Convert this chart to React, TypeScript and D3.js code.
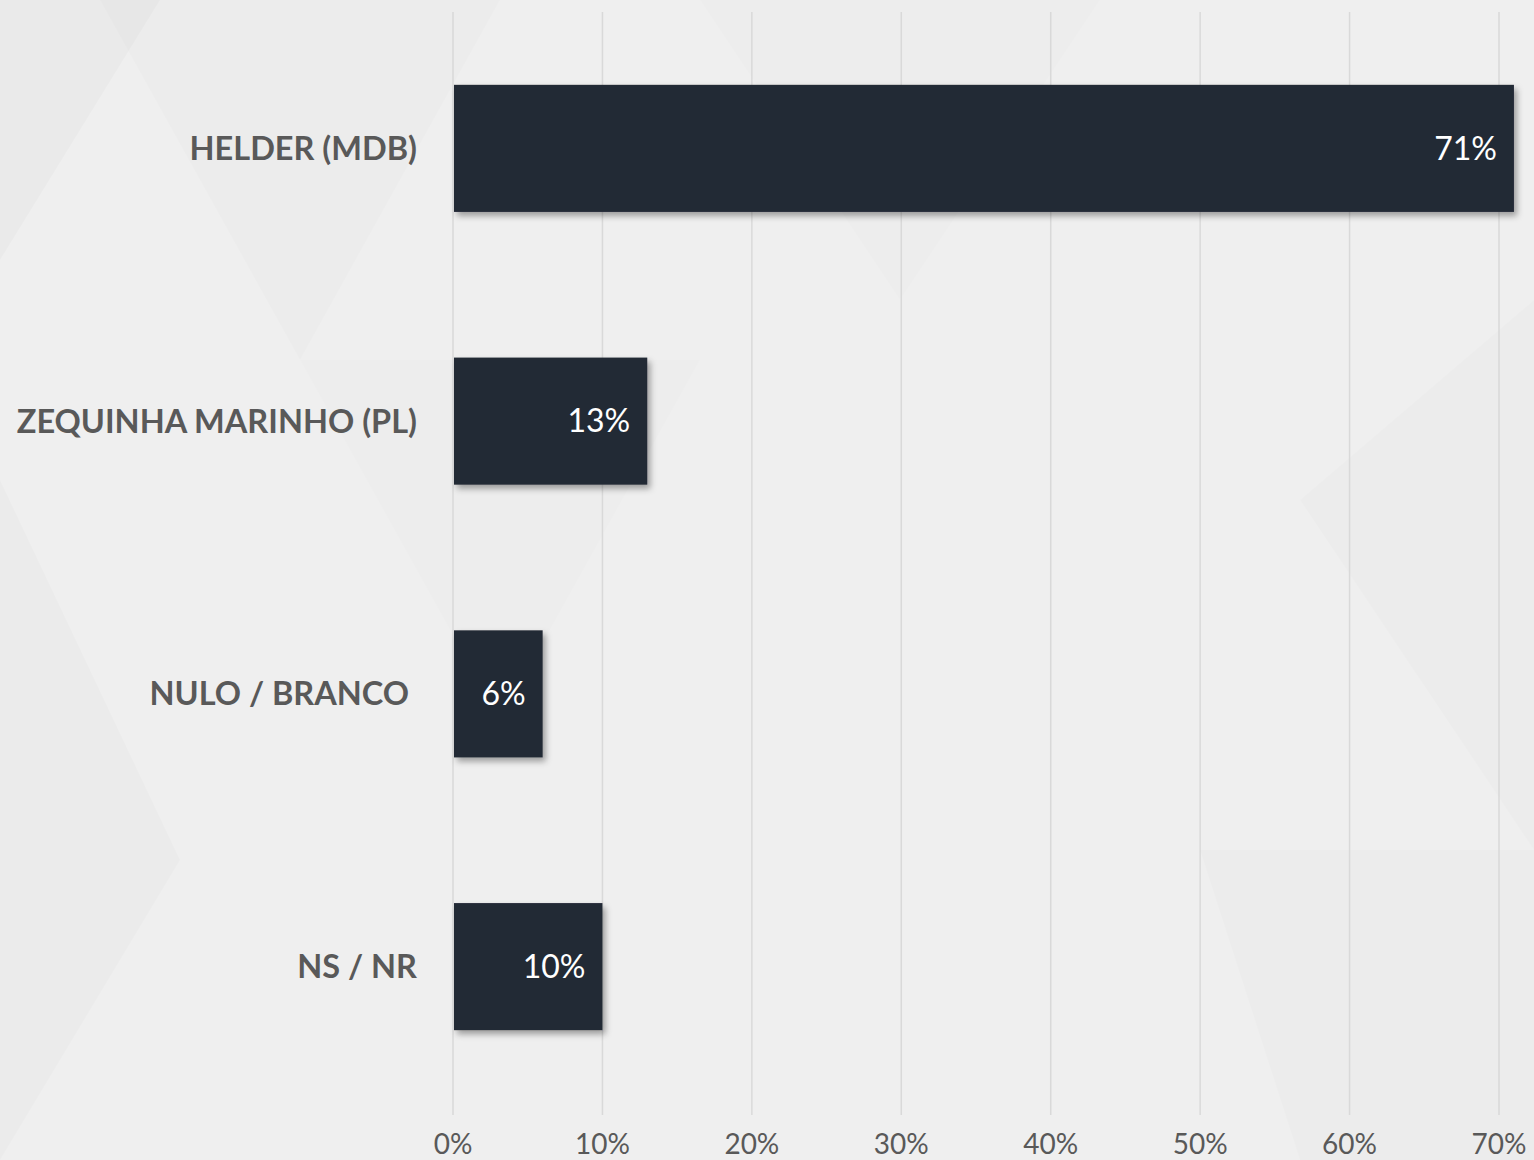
import React from 'react';
import * as d3 from 'd3';

const categories = ['HELDER (MDB)', 'ZEQUINHA MARINHO (PL)', 'NULO / BRANCO ', 'NS / NR'];
const values = [71, 13, 6, 10];
const tickValues = [0, 10, 20, 30, 40, 50, 60, 70];

const W = 1534;
const H = 1160;
const margin = { top: 12, right: 20, bottom: 57, left: 453 };

// faint background facets, like the slide template
const facets = [
  { pts: '0,0 160,0 0,260', o: 0.02 },
  { pts: '100,0 500,0 300,360', o: 0.01 },
  { pts: '300,360 700,360 500,720', o: 0.008 },
  { pts: '0,480 180,860 0,1160', o: 0.015 },
  { pts: '1200,850 1534,850 1534,1160 1300,1160', o: 0.012 },
  { pts: '1300,500 1534,300 1534,850', o: 0.01 },
  { pts: '700,0 1100,0 900,300', o: 0.008 },
];

const App = () => {
  const height = H - margin.top - margin.bottom;

  const x = d3.scaleLinear().domain([0, 70]).range([0, 1046]);
  const y = d3
    .scaleBand()
    .domain(categories)
    .range([0, height])
    .paddingInner(0.534)
    .paddingOuter(0.267);

  return (
    <svg
      width={W}
      height={H}
      style={{ position: 'absolute', left: 0, top: 0, display: 'block' }}
      fontFamily="Lato, 'Open Sans', sans-serif"
    >
      <defs>
        <filter id="shadow" x="-5%" y="-10%" width="120%" height="130%">
          <feDropShadow dx="3" dy="4" stdDeviation="3" floodColor="#000" floodOpacity="0.35" />
        </filter>
      </defs>
      <rect width={W} height={H} fill="#efefef" />
      {facets.map((f, i) => (
        <polygon key={i} points={f.pts} fill="#000" opacity={f.o} />
      ))}
      <g transform={`translate(${margin.left},${margin.top})`}>
        {tickValues.map((t) => (
          <line
            key={t}
            x1={x(t)}
            x2={x(t)}
            y1={0}
            y2={height + 12}
            stroke="#d9d9d9"
            strokeWidth={1.5}
          />
        ))}
        {tickValues.map((t) => (
          <text
            key={t}
            x={x(t)}
            y={height + 51}
            textAnchor="middle"
            fontSize={28}
            fill="#595959"
          >
            {`${t}%`}
          </text>
        ))}
        {categories.map((c, i) => {
          const y0 = y(c) as number;
          const bw = y.bandwidth();
          return (
            <g key={c}>
              <rect
                x={x(0) + 1}
                y={y0}
                width={x(values[i]) - x(0) - 1}
                height={bw}
                fill="#222a36"
                filter="url(#shadow)"
              />
              <text
                x={x(values[i]) - 17}
                y={y0 + bw / 2}
                dy="0.35em"
                textAnchor="end"
                fontSize={32}
                fill="#ffffff"
              >
                {`${values[i]}%`}
              </text>
              <text
                x={-36}
                y={y0 + bw / 2}
                dy="0.35em"
                textAnchor="end"
                fontSize={32.5}
                fontWeight="bold"
                fill="#595959"
                style={{ whiteSpace: 'pre' }}
              >
                {c}
              </text>
            </g>
          );
        })}
      </g>
    </svg>
  );
};

export default App;
